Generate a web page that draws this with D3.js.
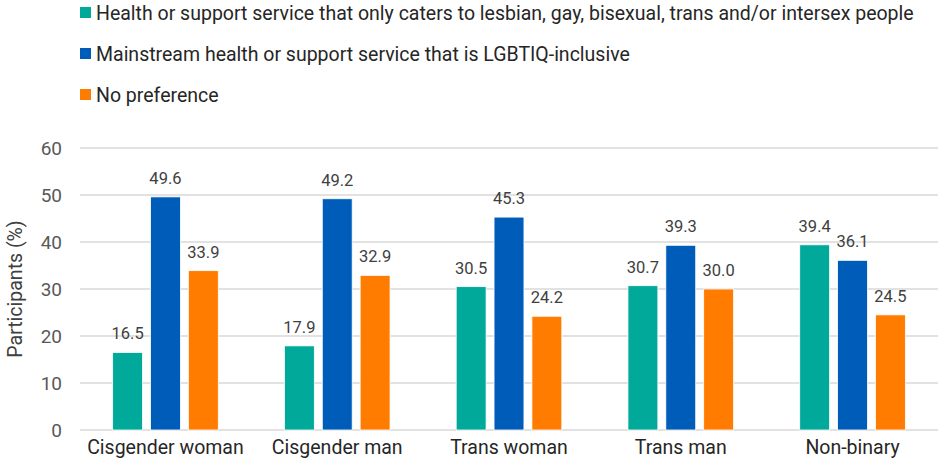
<!DOCTYPE html>
<html>
<head>
<meta charset="utf-8">
<script src="https://cdn.jsdelivr.net/npm/d3@7"></script>
<style>
  body { margin: 0; background: #fff; }
  svg { font-family: Roboto, sans-serif; display: block; }
</style>
</head>
<body>
<svg id="chart" width="938" height="465"></svg>
<script>
const categories = ["Cisgender woman", "Cisgender man", "Trans woman", "Trans man", "Non-binary"];
const seriesNames = [
  "Health or support service that only caters to lesbian, gay, bisexual, trans and/or intersex people",
  "Mainstream health or support service that is LGBTIQ-inclusive",
  "No preference"
];
const onlyLgbtiq = [16.5, 17.9, 30.5, 30.7, 39.4];
const mainstream = [49.6, 49.2, 45.3, 39.3, 36.1];
const noPreference = [33.9, 32.9, 24.2, 30.0, 24.5];
const yTicks = [0, 10, 20, 30, 40, 50, 60];
const colors = ["#00a99a", "#005cb9", "#ff7c00"];

const svg = d3.select("#chart");
const margin = { left: 80, right: 0, top: 148, bottom: 35 };
const width = +svg.attr("width");
const height = +svg.attr("height");

const series = [onlyLgbtiq, mainstream, noPreference];
const data = categories.map((c, i) => ({
  cat: c,
  values: series.map((s, k) => ({ key: k, value: s[i] }))
}));

const x0 = d3.scaleBand()
  .domain(categories)
  .range([margin.left, width - margin.right])
  .paddingInner(0.385)
  .paddingOuter(0.19);

const x1 = d3.scaleBand()
  .domain([0, 1, 2])
  .range([0, x0.bandwidth()])
  .paddingInner(0.21)
  .paddingOuter(0);

const y = d3.scaleLinear()
  .domain([0, 60])
  .range([height - margin.bottom, margin.top]);

// gridlines
svg.append("g")
  .selectAll("line")
  .data(yTicks)
  .enter()
  .append("line")
  .attr("x1", margin.left)
  .attr("x2", width - margin.right)
  .attr("y1", d => y(d))
  .attr("y2", d => y(d))
  .attr("stroke", "#d9d9d9")
  .attr("stroke-width", 1.3);

// y axis labels
const yAxis = d3.axisLeft(y).tickValues(yTicks).tickSize(0).tickPadding(0);
svg.append("g")
  .attr("transform", `translate(${margin.left - 18}, 0)`)
  .call(yAxis)
  .call(g => g.select(".domain").remove())
  .selectAll("text")
  .attr("fill", "#595959")
  .style("font-size", "19px")
  .style("font-family", "Roboto, sans-serif");

svg.append("text")
  .attr("transform", `translate(22, ${(y(0) + y(60)) / 2}) rotate(-90)`)
  .attr("text-anchor", "middle")
  .attr("fill", "#404040")
  .style("font-size", "19.5px")
  .text("Participants (%)");

// bars
const groups = svg.append("g")
  .selectAll("g")
  .data(data)
  .enter()
  .append("g")
  .attr("transform", d => `translate(${x0(d.cat)}, 0)`);

groups.selectAll("rect")
  .data(d => d.values)
  .enter()
  .append("rect")
  .attr("x", d => x1(d.key))
  .attr("y", d => y(d.value))
  .attr("width", x1.bandwidth())
  .attr("height", d => y(0) - y(d.value))
  .attr("fill", d => colors[d.key])
  .attr("stroke", "#fff")
  .attr("stroke-width", 0.8);

groups.selectAll("text")
  .data(d => d.values)
  .enter()
  .append("text")
  .attr("x", d => x1(d.key) + x1.bandwidth() / 2)
  .attr("y", d => y(d.value) - 13)
  .attr("text-anchor", "middle")
  .attr("fill", "#404040")
  .style("font-size", "16.5px")
  .text(d => d.value.toFixed(1));

// x axis labels
const xAxis = d3.axisBottom(x0).tickSize(0).tickPadding(0);
svg.append("g")
  .attr("transform", `translate(0, ${y(0) + 10})`)
  .call(xAxis)
  .call(g => g.select(".domain").remove())
  .selectAll("text")
  .attr("fill", "#262626")
  .style("font-size", "19.5px")
  .style("font-family", "Roboto, sans-serif");

// legend
const legend = svg.append("g").attr("transform", "translate(80, 0)");
const items = legend.selectAll("g")
  .data(seriesNames)
  .enter()
  .append("g")
  .attr("transform", (d, i) => `translate(0, ${13 + i * 41})`);

items.append("rect")
  .attr("x", 0)
  .attr("y", -6)
  .attr("width", 11)
  .attr("height", 11)
  .attr("fill", (d, i) => colors[i]);

items.append("text")
  .attr("x", 16)
  .attr("y", 0)
  .attr("dy", "0.35em")
  .attr("fill", "#262626")
  .style("font-size", "19.5px")
  .text(d => d);
</script>
</body>
</html>
